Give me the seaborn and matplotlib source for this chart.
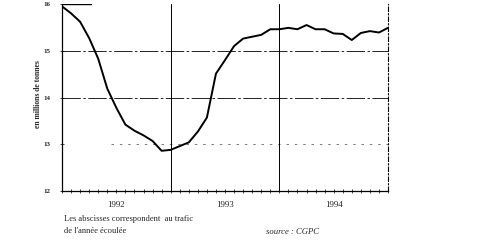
import matplotlib
matplotlib.use("Agg")
import matplotlib.pyplot as plt
import seaborn as sns
import pandas as pd
import numpy as np

# Monthly values (millions of tonnes), Jan 1992 .. Jan 1995 (index 0..36)
months = list(range(37))
tonnage = [15.95, 15.80, 15.62, 15.27, 14.83, 14.19, 13.78, 13.42, 13.29, 13.19,
           13.07, 12.86, 12.88, 12.96, 13.04, 13.27, 13.57, 14.51, 14.80, 15.10,
           15.26, 15.30, 15.34, 15.46, 15.46, 15.49, 15.46, 15.55, 15.46, 15.46,
           15.37, 15.36, 15.23, 15.38, 15.42, 15.39, 15.49]
year_labels = ["1992", "1993", "1994"]
year_centers = [6, 18, 30]
year_bounds = [12, 24]
y_ticks = [12, 13, 14, 15, 16]

df = pd.DataFrame({"mois": months, "trafic": tonnage})

sns.set_style("white")
plt.rcParams["font.family"] = ["Liberation Serif", "DejaVu Serif"]

fig = plt.figure(figsize=(4.84, 2.5), dpi=100)
top_px = 4
ax = fig.add_axes([62/484, 1 - 191/250, (388-62)/484, (191 - top_px)/250])

sns.lineplot(data=df, x="mois", y="trafic", ax=ax, color="black", linewidth=1.4)

ax.set_xlim(0, 36)
ax.set_ylim(12, 16)

# horizontal grid lines
ax.axhline(15, color="black", lw=0.6, ls=(0, (22, 3, 3, 3)))
ax.axhline(14, color="black", lw=0.6, ls=(0, (22, 3, 3, 3)))
ax.axhline(13, xmin=0.15, color="black", lw=0.6, ls=(0, (3, 7)), alpha=0.6)
ax.axhline(16, xmax=0.09, color="black", lw=1.0)
# year boundaries
for b in year_bounds:
    ax.axvline(b, color="black", lw=0.7)

ax.spines["top"].set_visible(False)
ax.spines["left"].set_color("black")
ax.spines["left"].set_linewidth(0.9)
ax.spines["bottom"].set_color("black")
ax.spines["bottom"].set_linewidth(0.9)
ax.spines["right"].set_color("black")
ax.spines["right"].set_linewidth(0.8)
ax.spines["right"].set_linestyle((0, (4, 2, 1, 2)))

ax.set_xticks(year_centers)
ax.set_xticklabels(year_labels, fontsize=6.5)
ax.set_xticks(months, minor=True)
ax.tick_params(axis="x", which="both", direction="inout", length=2.5, width=0.6,
               bottom=True, pad=6)
ax.set_yticks(y_ticks)
ax.set_yticklabels([str(v) for v in y_ticks], fontsize=5, fontweight="bold")
ax.tick_params(axis="y", direction="inout", length=2.5, width=0.6, left=True, pad=7)
ax.set_xlabel("")
ax.set_ylabel("")

fig.text(38/484, 1 - 94/250, "en millions de tonnes", rotation=90,
         ha="center", va="center", fontsize=5.5, fontweight="bold")
fig.text(64/484, 1 - 219/250, "Les abscisses correspondent  au trafic",
         ha="left", va="center", fontsize=6.1)
fig.text(64/484, 1 - 231/250, "de l'année écoulée",
         ha="left", va="center", fontsize=6.1)
fig.text(266/484, 1 - 232/250, "source : CGPC",
         ha="left", va="center", fontsize=6.2, style="italic")

fig.savefig("out.png", dpi=100)
